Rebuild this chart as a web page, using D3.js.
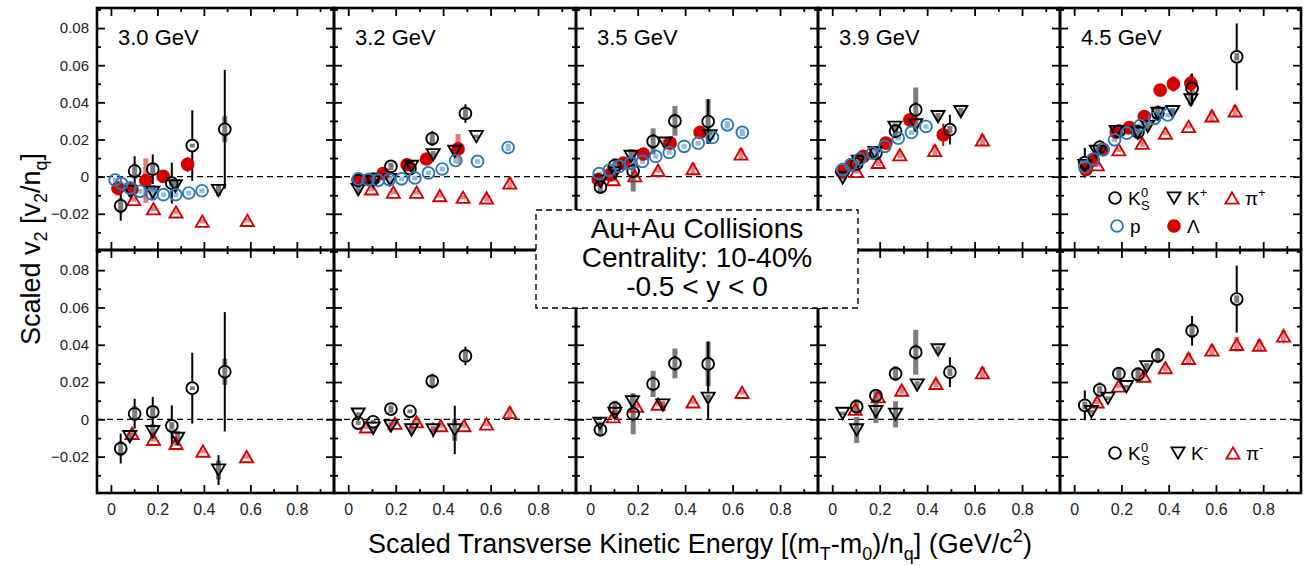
<!DOCTYPE html>
<html>
<head>
<meta charset="utf-8">
<script src="https://cdn.jsdelivr.net/npm/d3@7"></script>
<style>
  body { margin: 0; background: #fff; }
  svg { display: block; font-family: 'Liberation Sans', Arial, sans-serif; }
</style>
</head>
<body>
<svg id="chart" width="1304" height="566"></svg>
<script>
// Beam energies, one column each
const energies = ['3.0 GeV', '3.2 GeV', '3.5 GeV', '3.9 GeV', '4.5 GeV'];

// Each point: [ (mT-m0)/nq, v2/nq, stat err, sys err ]
const ks0 = [
  [[0.042,-0.0157,0.008,0.004],[0.102,0.003,0.008,0.004],[0.18,0.004,0.008,0.003],[0.262,-0.0035,0.011,0.002],[0.35,0.0167,0.019,0.001],[0.49,0.0255,0.032,0.007]],
  [[0.042,-0.002,0.001,0.001],[0.105,-0.0013,0.001,0.001],[0.18,0.0055,0.002,0.002],[0.26,0.0043,0.001,0.001],[0.354,0.0205,0.004,0.003],[0.494,0.034,0.005,0.003]],
  [[0.043,-0.0056,0.003,0.003],[0.104,0.006,0.003,0.004],[0.181,0.003,0.004,0.011],[0.265,0.019,0.004,0.007],[0.357,0.030,0.004,0.008],[0.497,0.0297,0.012,0.012]],
  [[0.103,0.0068,0.002,0.004],[0.184,0.0127,0.002,0.003],[0.267,0.0245,0.003,0.004],[0.352,0.036,0.004,0.012],[0.496,0.0253,0.008,0.002]],
  [[0.045,0.0075,0.008,0.002],[0.108,0.0158,0.004,0.002],[0.189,0.0245,0.003,0.003],[0.27,0.0241,0.003,0.004],[0.354,0.0342,0.004,0.004],[0.499,0.0475,0.008,0.004],[0.688,0.0645,0.018,0.002]],
];

const kPlus = [
  [[0.084,-0.008,0.002,0.003],[0.18,-0.0085,0.003,0.004],[0.277,-0.005,0.002,0.003],[0.463,-0.0075,0.002,0.003]],
  [[0.042,-0.007,0.002,0.002],[0.105,-0.0025,0.002,0.002],[0.176,-0.0016,0.002,0.002],[0.267,0.0055,0.002,0.003],[0.358,0.0118,0.003,0.002],[0.449,0.0136,0.003,0.002],[0.54,0.0216,0.002,0.001]],
  [[0.044,-0.0025,0.002,0.002],[0.104,0.002,0.002,0.002],[0.172,0.0109,0.002,0.004],[0.315,0.018,0.002,0.002],[0.505,0.022,0.003,0.002]],
  [[0.044,-0.0007,0.001,0.001],[0.11,0.0082,0.002,0.003],[0.18,0.013,0.002,0.002],[0.264,0.0266,0.002,0.002],[0.352,0.0279,0.002,0.002],[0.446,0.0323,0.002,0.002],[0.542,0.035,0.002,0.002]],
  [[0.045,0.006,0.002,0.002],[0.094,0.0136,0.002,0.002],[0.178,0.0243,0.002,0.002],[0.269,0.0234,0.002,0.003],[0.311,0.027,0.002,0.002],[0.354,0.0341,0.002,0.002],[0.417,0.035,0.002,0.002],[0.494,0.0413,0.003,0.003]],
];

const piPlus = [
  [[0.098,-0.0123],[0.183,-0.0173],[0.28,-0.019],[0.393,-0.024],[0.587,-0.0235]],
  [[0.098,-0.0066],[0.19,-0.0084],[0.288,-0.0084],[0.386,-0.0102],[0.484,-0.0111],[0.583,-0.0114,0.001,0.002],[0.681,-0.0034,0.001,0.003]],
  [[0.097,-0.0016],[0.188,0.0005],[0.286,0.0034],[0.433,0.0043,0.001,0.003],[0.635,0.0122,0.001,0.003]],
  [[0.103,0.0028],[0.194,0.0077,0.001,0.002],[0.285,0.0118,0.001,0.002],[0.432,0.0141,0.001,0.003],[0.633,0.0198,0.001,0.003]],
  [[0.098,0.0064],[0.189,0.0145],[0.288,0.018,0.001,0.002],[0.386,0.0234],[0.484,0.027],[0.583,0.0327,0.001,0.003],[0.681,0.0354,0.001,0.003]],
];

const proton = [
  [[0.018,-0.0018],[0.046,-0.0038],[0.081,-0.0061],[0.125,-0.0079],[0.177,-0.0093],[0.226,-0.0097],[0.279,-0.0097],[0.335,-0.0088],[0.392,-0.0076]],
  [[0.043,-0.0012],[0.084,-0.0016],[0.126,-0.002],[0.173,-0.0016],[0.225,-0.0012],[0.281,-0.0007],[0.338,0.002],[0.396,0.0041],[0.453,0.0087],[0.545,0.0082],[0.674,0.0157,0.002,0.002]],
  [[0.038,0.0016],[0.08,0.0034],[0.122,0.0055],[0.17,0.0073],[0.22,0.0082],[0.276,0.0109],[0.333,0.013],[0.396,0.0163],[0.455,0.018],[0.515,0.0211],[0.578,0.0279,0.002,0.002],[0.641,0.0238,0.003,0.002]],
  [[0.044,0.0038],[0.078,0.0064],[0.116,0.0095],[0.17,0.0127],[0.222,0.0163],[0.278,0.0207],[0.334,0.0238],[0.395,0.027]],
  [[0.045,0.0052],[0.08,0.0095],[0.122,0.0145],[0.171,0.0198],[0.223,0.0234],[0.279,0.0275],[0.34,0.0314],[0.396,0.0332]],
];

const lambda = [
  [[0.03,-0.0062,0.002,0.004],[0.09,-0.0068,0.002,0.003],[0.15,-0.0022,0.002,0.012],[0.225,0.0001,0.002,0.002],[0.33,0.0066,0.004,0.003]],
  [[0.043,-0.0016],[0.091,-0.0016],[0.147,0.0016],[0.248,0.0064],[0.33,0.0095],[0.463,0.0149,0.003,0.008]],
  [[0.034,-0.0016],[0.083,0.0011],[0.14,0.0073],[0.224,0.0122],[0.337,0.018],[0.463,0.0238,0.002,0.002]],
  [[0.04,0.0028],[0.08,0.0064],[0.131,0.0109],[0.226,0.018],[0.327,0.0306],[0.468,0.0225,0.006,0.002]],
  [[0.05,0.0038],[0.08,0.009],[0.122,0.0145],[0.178,0.024],[0.234,0.0264],[0.297,0.0323],[0.364,0.0466,0.003,0.003],[0.42,0.0499,0.004,0.004],[0.494,0.0502,0.005,0.004]],
];

const kMinus = [
  [[0.081,-0.0093,0.002,0.002],[0.18,-0.0066,0.003,0.004],[0.287,-0.0102,0.003,0.004],[0.463,-0.0272,0.008,0.005]],
  [[0.042,0.0028,0.001,0.001],[0.105,-0.0048,0.002,0.001],[0.18,-0.0036,0.002,0.002],[0.267,-0.0057,0.002,0.002],[0.358,-0.0057,0.004,0.002],[0.449,-0.0057,0.013,0.006]],
  [[0.041,-0.0022,0.002,0.001],[0.104,0.0032,0.003,0.002],[0.178,0.0094,0.004,0.003],[0.306,0.0077,0.002,0.002],[0.497,0.0113,0.011,0.002]],
  [[0.044,0.0032,0.001,0.001],[0.103,-0.0057,0.002,0.007],[0.184,0.0041,0.002,0.006],[0.267,0.0027,0.002,0.007],[0.358,0.0184,0.002,0.002],[0.446,0.0372,0.003,0.002]],
  [[0.073,0.0041,0.002,0.001],[0.143,0.0113,0.002,0.001],[0.221,0.0175,0.002,0.001],[0.307,0.0282,0.002,0.002]],
];

const piMinus = [
  [[0.091,-0.0075],[0.183,-0.0107],[0.28,-0.0129],[0.396,-0.017],[0.584,-0.020]],
  [[0.077,-0.004],[0.197,-0.0021],[0.288,-0.0013],[0.39,-0.0034],[0.488,-0.0034],[0.583,-0.0025],[0.681,0.0037,0.001,0.003]],
  [[0.097,0.0014],[0.195,0.0071],[0.286,0.0082],[0.433,0.0094],[0.64,0.0145]],
  [[0.097,0.0054,0.001,0.002],[0.194,0.0121,0.001,0.002],[0.293,0.0157,0.001,0.002],[0.437,0.0193,0.001,0.002],[0.633,0.025,0.001,0.003]],
  [[0.097,0.0094],[0.188,0.0179],[0.295,0.0232],[0.386,0.0277,0.001,0.002],[0.484,0.0327,0.001,0.003],[0.583,0.0372,0.001,0.003],[0.688,0.0402,0.001,0.004],[0.784,0.0398,0.001,0.003],[0.886,0.0447,0.004,0.003]],
];

// Axis ticks
const xMajor = [0, 0.2, 0.4, 0.6, 0.8];
const xMinor = [0.1, 0.3, 0.5, 0.7, 0.9];
const yMajor = [-0.02, 0, 0.02, 0.04, 0.06, 0.08];
const yMinor = [-0.03, -0.01, 0.01, 0.03, 0.05, 0.07, 0.09];

// Layout
const colEdges = [97, 334, 576, 818, 1060, 1301];
const rowEdges = [8, 250, 493];
const xDomain = [-0.06, 0.96];
const yDomain = [-0.0395, 0.0908];

const RED = '#d40000';
const BLUE = '#2a7ab8';
const GREY = '#7c7c7c';

const svg = d3.select('#chart');

/**
 * Triangle symbol centred on its bounding box (d3's own is centred on the centroid).
 */
const triangle = {
  draw(ctx, size) {
    const s = Math.sqrt(size), h = s * Math.sqrt(3) / 2;
    ctx.moveTo(0, -h / 2);
    ctx.lineTo(s / 2, h / 2);
    ctx.lineTo(-s / 2, h / 2);
    ctx.closePath();
  }
};
const triPath = d3.symbol(triangle, 170)();
const GAP = 6.5;

/**
 * Appends one marker to a selection.
 */
function marker(g, shape, cx, cy, style) {
  let m;
  if(shape === 'circle')
    m = g.append('circle').attr('cx', cx).attr('cy', cy).attr('r', 5.9);
  else
    m = g.append('path').attr('d', triPath)
      .attr('transform', `translate(${cx},${cy})` + (shape === 'down' ? ' rotate(180)' : ''));

  return m
    .attr('fill', style.fill ?? 'none')
    .attr('stroke', style.stroke)
    .attr('stroke-width', 1.9);
}

// Series styles per row, in drawing order
const topSeries = [
  { data: lambda, shape: 'circle', fill: RED, stroke: RED, sys: '#e27a7a' },
  { data: piPlus, shape: 'up', stroke: RED, sys: '#e58585' },
  { data: kPlus, shape: 'down', stroke: '#000', sys: GREY },
  { data: ks0, shape: 'circle', stroke: '#000', sys: GREY },
  { data: proton, shape: 'circle', stroke: BLUE, sys: '#8fbbe0' },
];
const bottomSeries = [
  { data: piMinus, shape: 'up', stroke: RED, sys: '#e58585' },
  { data: kMinus, shape: 'down', stroke: '#000', sys: GREY },
  { data: ks0, shape: 'circle', stroke: '#000', sys: GREY },
];

/**
 * Draws one panel of the grid.
 */
function drawPanel(col, row) {
  const x = d3.scaleLinear().domain(xDomain).range([colEdges[col], colEdges[col + 1]]);
  const y = d3.scaleLinear().domain(yDomain).range([rowEdges[row + 1], rowEdges[row]]);
  const g = svg.append('g');
  const [x0, x1] = x.range();
  const [y1, y0] = y.range();

  // Zero line
  g.append('line')
    .attr('x1', x0).attr('x2', x1)
    .attr('y1', y(0)).attr('y2', y(0))
    .attr('stroke', '#000')
    .attr('stroke-width', 1.4)
    .attr('stroke-dasharray', '6,4');

  // Inward ticks on all four sides
  const fmtX = d => d === 0 ? '0' : d3.format('.1f')(d);
  const fmtY = d => d === 0 ? '0' : d3.format('.2f')(d);
  const none = () => '';
  const axes = [
    [d3.axisBottom(x).tickValues(xMajor).tickSize(-8).tickPadding(11).tickFormat(row === 1 ? fmtX : none), `translate(0,${y1})`, 16],
    [d3.axisBottom(x).tickValues(xMinor).tickSize(-4).tickFormat(none), `translate(0,${y1})`],
    [d3.axisTop(x).tickValues(xMajor).tickSize(-8).tickFormat(none), `translate(0,${y0})`],
    [d3.axisTop(x).tickValues(xMinor).tickSize(-4).tickFormat(none), `translate(0,${y0})`],
    [d3.axisLeft(y).tickValues(yMajor).tickSize(-8).tickPadding(8).tickFormat(col === 0 ? fmtY : none), `translate(${x0},0)`, 15],
    [d3.axisLeft(y).tickValues(yMinor).tickSize(-4).tickFormat(none), `translate(${x0},0)`],
    [d3.axisRight(y).tickValues(yMajor).tickSize(-8).tickFormat(none), `translate(${x1},0)`],
    [d3.axisRight(y).tickValues(yMinor).tickSize(-4).tickFormat(none), `translate(${x1},0)`],
  ];
  axes.forEach(([axis, transform, fontSize]) => {
    const a = g.append('g').attr('transform', transform).call(axis);
    a.select('.domain').remove();
    a.selectAll('line').attr('stroke', '#000').attr('stroke-width', 1.8);
    a.selectAll('text')
      .attr('fill', '#222')
      .style('font-size', (fontSize ?? 15) + 'px')
      .style('font-family', "'Liberation Sans', Arial, sans-serif");
  });

  // Data: systematic boxes first, then stat bars, then markers
  const series = row === 0 ? topSeries : bottomSeries;
  series.forEach(s => {
    s.data[col].forEach(([px, pv, stat, sys]) => {
      sys = sys ?? 0.0012;
      g.append('rect')
        .attr('x', x(px) - 2.5).attr('width', 5)
        .attr('y', y(pv + sys)).attr('height', y(pv - sys) - y(pv + sys))
        .attr('fill', s.sys);
    });
  });
  series.forEach(s => {
    s.data[col].forEach(([px, pv, stat]) => {
      if(!stat) return;
      const cy = y(pv), up = y(pv + stat), down = y(pv - stat);
      // Stat bars stop at the marker edge
      [[cy - GAP, up], [cy + GAP, down]].forEach(([a, b]) => {
        if((b - a) * (a - cy) <= 0) return;
        g.append('line')
          .attr('x1', x(px)).attr('x2', x(px))
          .attr('y1', a).attr('y2', b)
          .attr('stroke', s.stroke)
          .attr('stroke-width', 2);
      });
    });
  });
  series.forEach(s => {
    s.data[col].forEach(([px, pv]) => marker(g, s.shape, x(px), y(pv), s));
  });

  // Frame
  g.append('rect')
    .attr('x', x0).attr('y', y0)
    .attr('width', x1 - x0).attr('height', y1 - y0)
    .attr('fill', 'none')
    .attr('stroke', '#000')
    .attr('stroke-width', 2.6);

  // Energy label
  if(row === 0)
    g.append('text')
      .attr('x', x0 + 21).attr('y', 45)
      .style('font-size', '22px')
      .text(energies[col]);
}

for(let r = 0; r < 2; r++)
  for(let c = 0; c < energies.length; c++)
    drawPanel(c, r);

/**
 * Legend entry with marker and a label that may carry sub/superscripts.
 */
function legendEntry(shape, style, mx, my, label, sup, sub) {
  marker(svg, shape, mx, my, style);
  const tx = mx + 13, by = my + 7;
  const t = svg.append('text').attr('x', tx).attr('y', by).style('font-size', '19px').text(label);
  if(sub) {
    svg.append('text').attr('x', tx + 13).attr('y', by + 5).style('font-size', '13px').text(sub);
    svg.append('text').attr('x', tx + 13).attr('y', by - 8).style('font-size', '13px').text(sup);
  } else if(sup) {
    t.append('tspan').attr('dy', -8).style('font-size', '13px').text(sup);
  }
}

legendEntry('circle', { stroke: '#000' }, 1115, 198, 'K', '0', 'S');
legendEntry('down', { stroke: '#000' }, 1174, 198, 'K', '+');
legendEntry('up', { stroke: RED }, 1232, 198, 'π', '+');
legendEntry('circle', { stroke: BLUE }, 1117, 226, 'p');
legendEntry('circle', { stroke: RED, fill: RED }, 1174, 226, 'Λ');

legendEntry('circle', { stroke: '#000' }, 1115, 453, 'K', '0', 'S');
legendEntry('down', { stroke: '#000' }, 1178, 453, 'K', '-');
legendEntry('up', { stroke: RED }, 1233, 453, 'π', '-');

// Info box over the middle panels
svg.append('rect')
  .attr('x', 536).attr('y', 210)
  .attr('width', 322).attr('height', 98)
  .attr('fill', '#fff')
  .attr('stroke', '#000')
  .attr('stroke-width', 1.4)
  .attr('stroke-dasharray', '6,4');

['Au+Au Collisions', 'Centrality: 10-40%', '-0.5 < y < 0'].forEach((line, i) => {
  svg.append('text')
    .attr('x', 697).attr('y', 238 + i * 29)
    .attr('text-anchor', 'middle')
    .style('font-size', '28px')
    .text(line);
});

// Axis titles
const xTitle = svg.append('text')
  .attr('x', 700).attr('y', 553)
  .attr('text-anchor', 'middle')
  .style('font-size', '27px');
[
  ['Scaled Transverse Kinetic Energy [(m', 0],
  ['T', 7], ['-m', -7], ['0', 7], [')/n', -7], ['q', 7], ['] (GeV/c', -7],
  ['2', -11], [')', 11],
].forEach(([s, dy]) => {
  const sp = xTitle.append('tspan').attr('dy', dy).text(s);
  if(['T', '0', 'q', '2'].includes(s)) sp.style('font-size', '18px');
});

const yTitle = svg.append('text')
  .attr('transform', 'translate(40,249) rotate(-90)')
  .attr('text-anchor', 'middle')
  .style('font-size', '27px');
[
  ['Scaled v', 0], ['2', 7], [' [v', -7], ['2', 7], ['/n', -7], ['q', 7], [']', -7],
].forEach(([s, dy]) => {
  const sp = yTitle.append('tspan').attr('dy', dy).text(s);
  if(['2', 'q'].includes(s)) sp.style('font-size', '18px');
});
</script>
</body>
</html>
